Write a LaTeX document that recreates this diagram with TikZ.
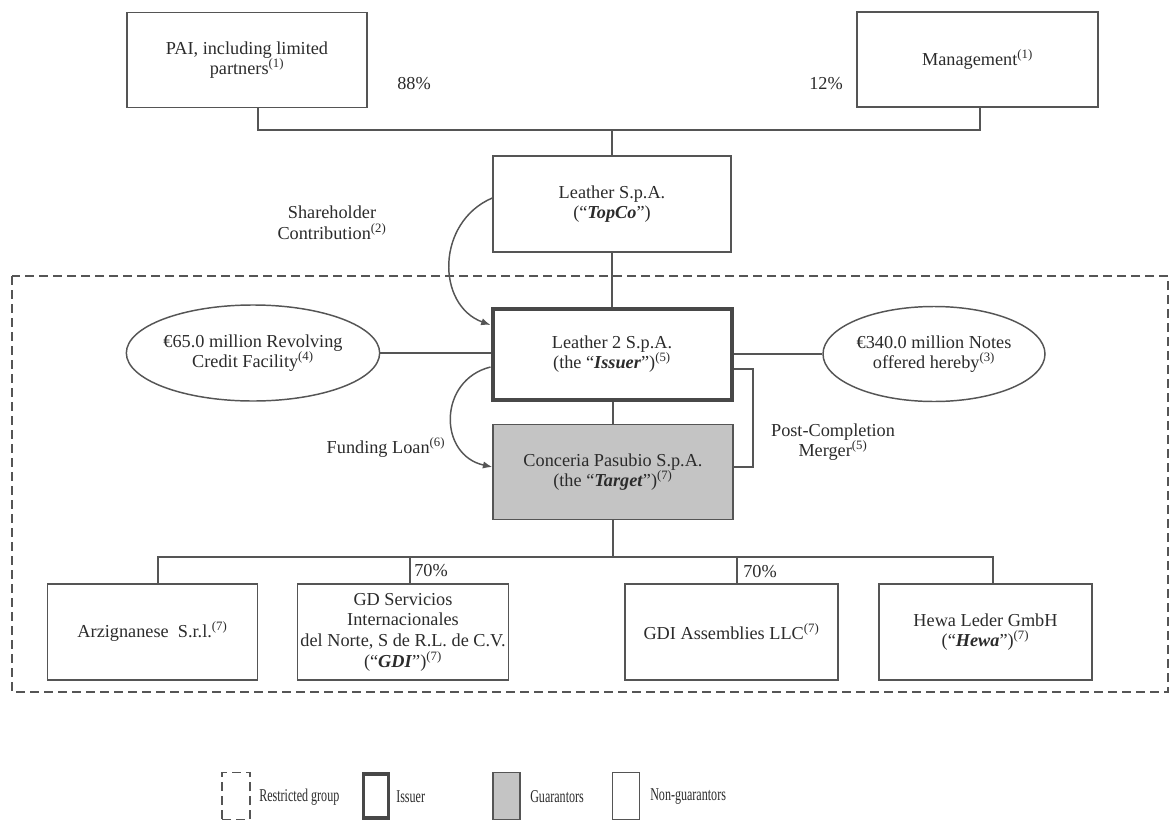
\documentclass[tikz,border=0pt]{standalone}
\usepackage{fontspec}
\setmainfont{Liberation Serif}
\newfontfamily\legfont[FakeStretch=0.67]{Liberation Serif}
\usetikzlibrary{arrows.meta,shapes.geometric,calc}
\definecolor{ln}{HTML}{555555}
\definecolor{tx}{HTML}{2B2B2B}
\definecolor{gfill}{HTML}{C4C4C4}
\begin{document}
\begin{tikzpicture}[x=0.75pt,y=-0.75pt,
  every node/.style={text=tx, font=\fontsize{13.7}{15.5}\selectfont},
  box/.style={draw=ln, line width=1.1pt, align=center, inner sep=2pt},
  issuerbox/.style={box, line width=3pt, draw=ln!85!black},
  guarbox/.style={box, fill=gfill},
  oval/.style={ellipse, draw=ln, line width=1.1pt, align=center, inner sep=0pt},
  conn/.style={draw=ln, line width=1.1pt},
  arr/.style={conn, -{Latex[length=7pt,width=5.5pt]}},
  restricted/.style={draw=ln, line width=1pt, dash pattern=on 6.75pt off 3.75pt},
  lbl/.style={align=center, inner sep=1pt},
  legtext/.style={anchor=west, font=\legfont\fontsize{13.5}{15}\selectfont, inner sep=0pt}
]
\useasboundingbox (0,0) rectangle (1171,821);

% restricted group frame
\draw[restricted] (12,276) rectangle (1168,692);

% top owners
\node[box, minimum width=180pt, minimum height=71.25pt] (pai) at (247,60) {PAI, including limited\\partners\textsuperscript{(1)}};
\node[box, minimum width=180.75pt, minimum height=71.25pt] (mgmt) at (977.5,59.5) {Management\textsuperscript{(1)}};
\node[lbl] (p88) at (414,84) {88\%};
\node[lbl] (p12) at (826,84) {12\%};

% holding chain
\node[box, minimum width=178.5pt, minimum height=72pt] (topco) at (612,204) {Leather S.p.A.\\(“\textbf{\textit{TopCo}}”)};
\node[issuerbox, minimum width=179.25pt, minimum height=68.25pt] (issuer) at (612,354) {Leather 2 S.p.A.\\(the “\textbf{\textit{Issuer}}”)\textsuperscript{(5)}};
\node[guarbox, minimum width=180pt, minimum height=71.25pt] (target) at (613,472) {Conceria Pasubio S.p.A.\\(the “\textbf{\textit{Target}}”)\textsuperscript{(7)}};

% financing ovals
\node[oval, minimum width=183pt, minimum height=72pt] (rcf) at (253,353) {€65.0 million Revolving\\Credit Facility\textsuperscript{(4)}};
\node[oval, minimum width=166.5pt, minimum height=71.25pt] (notes) at (934,354) {€340.0 million Notes\\offered hereby\textsuperscript{(3)}};

% subsidiaries
\node[box, minimum width=157.5pt, minimum height=72pt] (arz) at (152.5,632) {Arzignanese\ \ S.r.l.\textsuperscript{(7)}};
\node[box, minimum width=157.5pt, minimum height=72pt] (gdi) at (403,632) {GD Servicios\\Internacionales\\del Norte, S de R.L. de C.V.\\(“\textbf{\textit{GDI}}”)\textsuperscript{(7)}};
\node[box, minimum width=159.75pt, minimum height=72pt] (gdia) at (731.5,632) {GDI Assemblies LLC\textsuperscript{(7)}};
\node[box, minimum width=159.75pt, minimum height=72pt] (hewa) at (985.5,632) {Hewa Leder GmbH\\(“\textbf{\textit{Hewa}}”)\textsuperscript{(7)}};

% ownership lines top
\coordinate (j1) at (612,130);
\draw[conn] ([xshift=8.25pt]pai.south) |- (j1) -| ([xshift=2pt]mgmt.south);
\draw[conn] (j1) -- (topco.north);
\draw[conn] (topco.south) -- (issuer.north);
\draw[conn] (issuer.south -| target.north) -- (target.north);

% ovals to issuer
\draw[conn] (rcf.east) -- (issuer.west |- rcf.east);
\draw[conn] (issuer.east) -- (notes.west);

% post-completion merger
\coordinate (m1) at (753,369);
\draw[conn] ([yshift=-11.25pt]issuer.east) -- (m1) |- ([yshift=3.75pt]target.east);
\node[lbl] (merger) at (833,442) {Post-Completion\\Merger\textsuperscript{(5)}};

% curved flows
\draw[arr] ([yshift=4.5pt]topco.west) .. controls (436,222) and (436,305) .. ([yshift=21.75pt]issuer.west);
\node[lbl] (shc) at (332,223) {Shareholder\\Contribution\textsuperscript{(2)}};
\draw[arr] ([yshift=-9.75pt]issuer.west) .. controls (438,380) and (438,455) .. ([yshift=3.75pt]target.west);
\node[lbl] (fl) at (386,448) {Funding Loan\textsuperscript{(6)}};

% subsidiaries bus
\coordinate (j2) at (613,557);
\draw[conn] (target.south) -- (j2);
\draw[conn] ([xshift=4pt]arz.north) |- (j2) -| ([xshift=5.5pt]hewa.north);
\draw[conn] ([xshift=5.25pt]gdi.north) -- ([xshift=5.25pt]gdi.north |- j2);
\draw[conn] ([xshift=4.25pt]gdia.north) -- ([xshift=4.25pt]gdia.north |- j2);
\node[lbl] (s70a) at (431,571) {70\%};
\node[lbl] (s70b) at (760,572) {70\%};

% legend
\node[restricted, minimum width=21pt, minimum height=35pt, inner sep=0pt] (lg1) at (236,796) {};
\node[issuerbox, line width=2.5pt, minimum width=19pt, minimum height=33pt, inner sep=0pt] (lg2) at (376,796) {};
\node[guarbox, minimum width=20pt, minimum height=35pt, inner sep=0pt] (lg3) at (506.5,796) {};
\node[box, minimum width=20pt, minimum height=35pt, inner sep=0pt] (lg4) at (626,796) {};
\node[legtext] (lt1) at (259,797) {Restricted group};
\node[legtext] (lt2) at (396,797) {Issuer};
\node[legtext] (lt3) at (530,797) {Guarantors};
\node[legtext] (lt4) at (650,797) {Non-guarantors};
\end{tikzpicture}
\end{document}
